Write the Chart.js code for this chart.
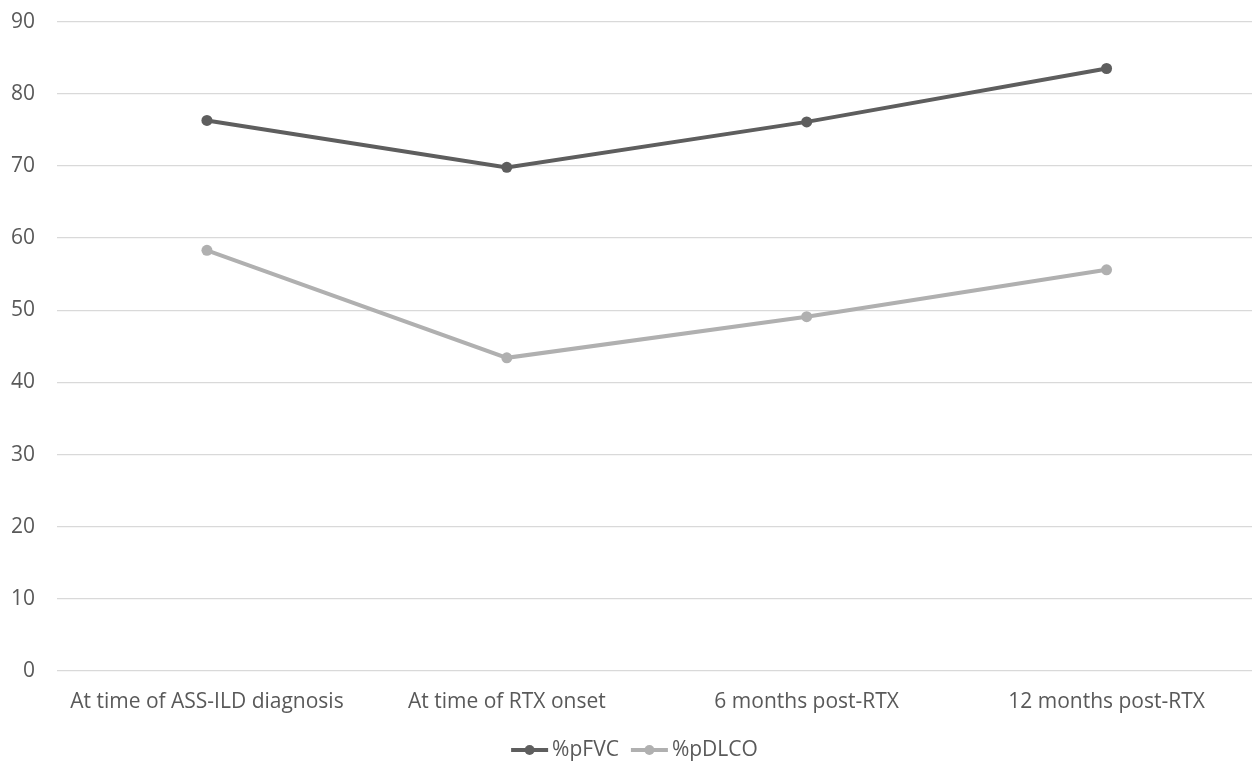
<!DOCTYPE html>
<html lang="en">
<head>
    <meta charset="UTF-8">
    <title>%pFVC and %pDLCO</title>
    <script src="https://cdn.jsdelivr.net/npm/chart.js"></script>
    <style>
        html, body { margin: 0; padding: 0; background: #fff; overflow: hidden; }
        .grafico { width: 1262px; height: 774px; margin-top: -13px; }
    </style>
</head>
<body>
    <div class="grafico">
        <canvas id="myChart"></canvas>
    </div>

<script>
    // dados
    const categorias = ['At time of ASS-ILD diagnosis', 'At time of RTX onset', '6 months post-RTX', '12 months post-RTX'];
    const valoresFVC = [76.3, 69.8, 76.1, 83.5];
    const valoresDLCO = [58.3, 43.4, 49.1, 55.6];
    const nomesSeries = ['%pFVC', '%pDLCO'];

    const corEscura = '#5e5e5e';
    const corClara = '#b0b0b0';
    const fonte = "'Open Sans', 'Liberation Sans', sans-serif";

    // legenda no estilo do excel: linha com bolinha no meio
    const legendaLinha = {
        id: 'legendaLinha',
        afterDraw(chart) {
            const ctx = chart.ctx;
            ctx.save();
            ctx.font = '21px ' + fonte;
            ctx.textBaseline = 'middle';
            const y = chart.chartArea.bottom + 79;
            const itens = chart.data.datasets.map(d => ({ texto: d.label, cor: d.borderColor }));
            const larguraLinha = 37, gap = 4, entre = 12;
            let total = 0;
            itens.forEach((it, i) => {
                it.w = larguraLinha + gap + ctx.measureText(it.texto).width;
                total += it.w + (i > 0 ? entre : 0);
            });
            let x = 634.5 - total / 2;
            itens.forEach(it => {
                ctx.strokeStyle = it.cor;
                ctx.lineWidth = 4;
                ctx.beginPath();
                ctx.moveTo(x, y);
                ctx.lineTo(x + larguraLinha, y);
                ctx.stroke();
                ctx.fillStyle = it.cor;
                ctx.beginPath();
                ctx.arc(x + larguraLinha / 2, y, 5, 0, Math.PI * 2);
                ctx.fill();
                ctx.fillStyle = '#595959';
                ctx.fillText(it.texto, x + larguraLinha + gap, y);
                x += it.w + entre;
            });
            ctx.restore();
        }
    };

    const ctx = document.getElementById('myChart');

    new Chart(ctx, {
        type: 'line',
        data: {
            labels: categorias,
            datasets: [{
                label: nomesSeries[0],
                data: valoresFVC,
                borderColor: corEscura,
                backgroundColor: corEscura,
                borderWidth: 4,
                pointRadius: 5.5,
                pointHoverRadius: 5.5,
                pointBorderWidth: 0,
                tension: 0
            }, {
                label: nomesSeries[1],
                data: valoresDLCO,
                borderColor: corClara,
                backgroundColor: corClara,
                borderWidth: 4,
                pointRadius: 5.5,
                pointHoverRadius: 5.5,
                pointBorderWidth: 0,
                tension: 0
            }]
        },
        options: {
            responsive: true,
            maintainAspectRatio: false,
            animation: false,
            layout: {
                padding: { top: 0, right: 0, bottom: 40, left: 0 }
            },
            plugins: {
                legend: { display: false },
                tooltip: { enabled: false }
            },
            scales: {
                x: {
                    offset: true,
                    grid: { display: false },
                    border: { display: false },
                    ticks: {
                        color: '#595959',
                        font: { family: fonte, size: 21 },
                        maxRotation: 0,
                        padding: 10
                    },
                    afterFit(scale) { scale.height = 50; }
                },
                y: {
                    min: 0,
                    max: 90,
                    ticks: {
                        stepSize: 10,
                        color: '#595959',
                        font: { family: fonte, size: 21 },
                        padding: 22
                    },
                    grid: { color: '#d9d9d9', lineWidth: 1.3, drawTicks: false },
                    border: { display: false },
                    afterFit(scale) { scale.width = 57; }
                }
            }
        },
        plugins: [legendaLinha]
    });
</script>
</body>
</html>
